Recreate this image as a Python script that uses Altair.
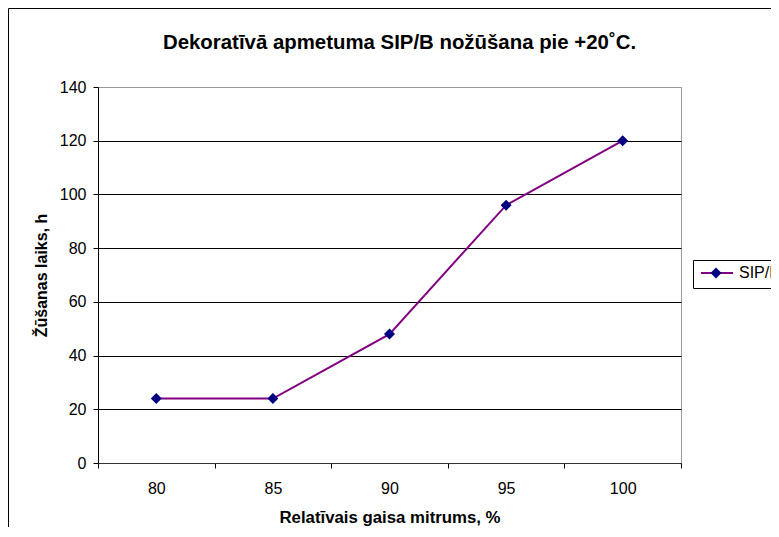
import altair as alt
import pandas as pd

# ---- data ----
humidity = [80, 85, 90, 95, 100]          # Relatīvais gaisa mitrums, %
drying_time = [24, 24, 48, 96, 120]       # Žūšanas laiks, h
series_name = ["SIP/B"] * 5
y_ticks = [0, 20, 40, 60, 80, 100, 120, 140]

df = pd.DataFrame({
    "rh": humidity,
    "t": drying_time,
    "s": series_name,
    "marker": series_name,
})

FONT = "Liberation Sans"
LINE_COLOR = "#800080"
MARKER_COLOR = "#000080"

x_enc = alt.X(
    "rh:O",
    bandPosition=0.5,
    scale=alt.Scale(type="band", paddingInner=0, paddingOuter=0),
    axis=alt.Axis(
        title="Relatīvais gaisa mitrums, %",
        tickBand="extent",
        labelAngle=0,
        labelFont=FONT,
        labelFontSize=16,
        labelColor="black",
        labelPadding=12,
        tickSize=5,
        tickColor="black",
        domainColor="#333333",
        grid=False,
        titleFont=FONT,
        titleFontSize=16.8,
        titleFontWeight="bold",
        titleColor="black",
        titleBaseline="alphabetic",
        titleY=59,
    ),
)

y_enc = alt.Y(
    "t:Q",
    scale=alt.Scale(domain=[0, 140], nice=False, zero=True),
    axis=alt.Axis(
        title="Žūšanas laiks, h",
        values=y_ticks,
        labelFont=FONT,
        labelFontSize=16,
        labelColor="black",
        labelPadding=7,
        tickSize=5,
        tickColor="black",
        domainColor="black",
        gridColor=alt.condition("datum.value == 140", alt.value("#999999"), alt.value("black")),
        gridWidth=1,
        titleFont=FONT,
        titleFontSize=16,
        titleFontWeight="bold",
        titleColor="black",
        titleAngle=270,
        titleBaseline="alphabetic",
        titleX=-52,
        titleY=188,
    ),
)

base = alt.Chart(df)

line = base.mark_line(strokeWidth=2).encode(
    x=x_enc,
    y=y_enc,
    color=alt.Color(
        "s:N",
        scale=alt.Scale(range=[LINE_COLOR]),
        legend=alt.Legend(
            title=None,
            orient="none",
            legendX=595,
            legendY=173,
            padding=7,
            clipHeight=12,
            strokeColor="black",
            symbolType="stroke",
            symbolSize=1024,
            symbolStrokeWidth=2,
            labelFont=FONT,
            labelFontSize=16,
            labelColor="black",
            labelOffset=5,
        ),
    ),
)

points = base.mark_point(filled=True, opacity=1, size=120).encode(
    x=x_enc,
    y=y_enc,
    color=alt.value(MARKER_COLOR),
    shape=alt.Shape(
        "marker:N",
        scale=alt.Scale(range=["diamond"]),
        legend=alt.Legend(
            title=None,
            orient="none",
            legendX=605.5,
            legendY=173,
            padding=7,
            clipHeight=12,
            symbolSize=120,
            symbolFillColor=MARKER_COLOR,
            symbolStrokeColor=MARKER_COLOR,
            symbolStrokeWidth=0,
            labelExpr="''",
        ),
    ),
)

frame_df = pd.DataFrame({"k": [0]})
frame_left = alt.Chart(frame_df).mark_rule(color="black", strokeWidth=1).encode(
    x=alt.value(-89.5), y=alt.value(-78.5), y2=alt.value(470)
)
frame_top = alt.Chart(frame_df).mark_rule(color="black", strokeWidth=1).encode(
    x=alt.value(-89.5), x2=alt.value(700), y=alt.value(-78.5)
)

chart = (
    alt.layer(frame_left, frame_top, line, points)
    .properties(
        width=583,
        height=376,
        title=alt.TitleParams(
            text="Dekoratīvā apmetuma SIP/B nožūšana pie +20˚C.",
            font=FONT,
            fontSize=20.4,
            fontWeight="bold",
            color="black",
            anchor="middle",
            frame="group",
            baseline="alphabetic",
            offset=-61,
            dx=10,
        ),
        autosize=alt.AutoSizeParams(type="none"),
        padding={"left": 90, "top": 79, "right": 90, "bottom": 64},
    )
    .resolve_legend(color="independent", shape="independent")
    .configure(background="white")
    .configure_view(stroke="#999999", strokeWidth=1, fill="white")
)

chart.save("out.html", embed_options={"renderer": "svg", "actions": False})
